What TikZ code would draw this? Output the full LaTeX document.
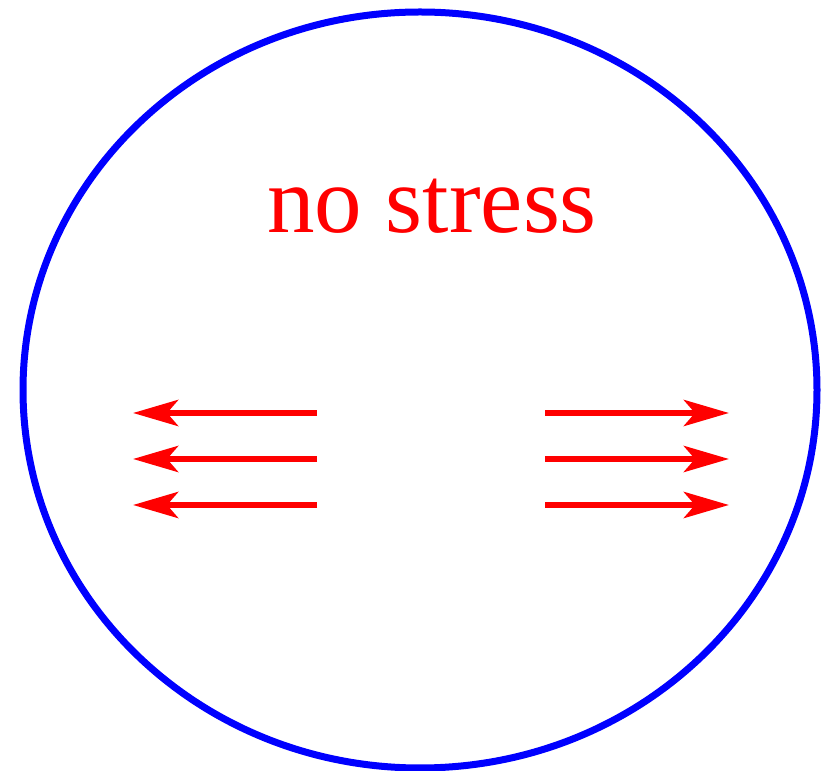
\documentclass[tikz,border=0pt]{standalone}
\usepackage{fontspec}
\setmainfont{Liberation Serif}
\usetikzlibrary{arrows.meta,shapes.geometric}
\begin{document}
\begin{tikzpicture}[x=1pt,y=1pt,
  force/.style={draw=red,line width=6.5pt,-{Stealth[length=45pt,width=26pt,inset=11pt]}},
  outline/.style={draw=blue,line width=7pt}]
\useasboundingbox (0,0) rectangle (825,771);
\node[outline,ellipse,minimum width=794pt,minimum height=756pt,inner sep=0pt] (body) at (420,381) {};
\node[red,anchor=base,inner sep=0pt,font=\fontsize{95}{95}\selectfont] (label) at (432,538) {no stress};
\foreach \i/\y in {1/358,2/312,3/266}{
  \coordinate (ls\i) at (317,\y);
  \coordinate (le\i) at (133,\y);
  \coordinate (rs\i) at (545,\y);
  \coordinate (re\i) at (729,\y);
  \draw[force] (ls\i) -- (le\i);
  \draw[force] (rs\i) -- (re\i);
}
\end{tikzpicture}
\end{document}
